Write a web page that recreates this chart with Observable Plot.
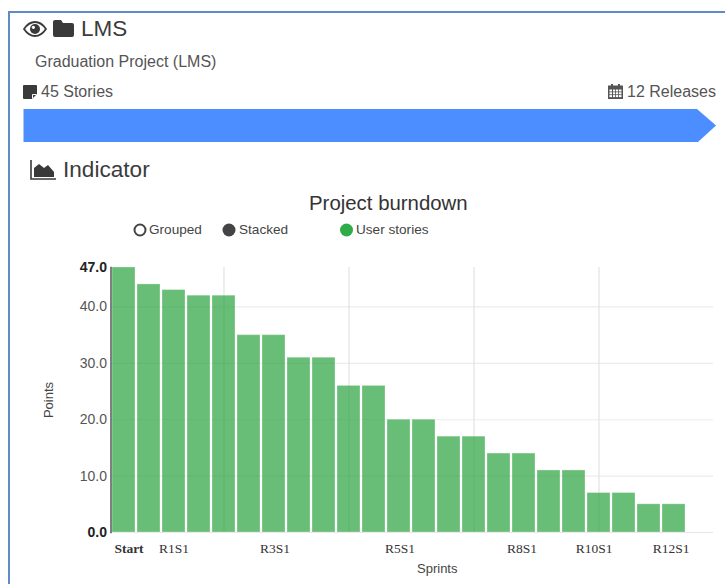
<!DOCTYPE html>
<html>
<head>
<meta charset="utf-8">
<script src="https://cdn.jsdelivr.net/npm/d3@7"></script>
<script src="https://cdn.jsdelivr.net/npm/@observablehq/plot@0.6"></script>
<style>
html,body{margin:0;padding:0;background:#fff;overflow:hidden}
#page{position:relative;width:725px;height:584px;font-family:"Liberation Sans",Arial,sans-serif;color:#444}
#head{position:relative;width:725px;height:250px}
#head>*{position:absolute;white-space:nowrap}
#chart svg{display:block}
</style>
</head>
<body>
<div id="page">
  <div id="head">
    <div style="left:8px;top:11px;width:717px;height:2px;background:#5f8cc6"></div>
    <div style="left:8px;top:11px;width:2px;height:573px;background:#5f8cc6"></div>

    <svg style="left:23px;top:21px" width="24" height="16" viewBox="0 0 24 16">
      <path d="M1 8C5 2 9 1 12 1s7 1 11 7c-4 6-8 7-11 7S5 14 1 8z" fill="none" stroke="#3a3a3a" stroke-width="1.8"/>
      <circle cx="12" cy="8" r="5" fill="#3a3a3a"/><circle cx="10.4" cy="6.3" r="1.6" fill="#fff"/>
    </svg>
    <svg style="left:53px;top:20px" width="21" height="17" viewBox="0 0 21 17">
      <path d="M2 0h6l2 3h9a2 2 0 0 1 2 2v10a2 2 0 0 1-2 2H2a2 2 0 0 1-2-2V2a2 2 0 0 1 2-2z" fill="#3a3a3a"/>
    </svg>
    <div style="left:81px;top:17px;font-size:22.5px;line-height:24px;color:#3c3c3c">LMS</div>
    <div style="left:35px;top:53px;font-size:16px;line-height:18px;color:#555">Graduation Project (LMS)</div>

    <svg style="left:23px;top:85px" width="14" height="14" viewBox="0 0 14 14">
      <path d="M0 1a1 1 0 0 1 1-1h12a1 1 0 0 1 1 1v8l-5 5H1a1 1 0 0 1-1-1z" fill="#3a3a3a"/>
      <path d="M9.5 13.5V9.5h4" fill="none" stroke="#fff" stroke-width="1"/>
    </svg>
    <div style="left:41px;top:83px;font-size:16px;line-height:18px;color:#555">45 Stories</div>

    <svg style="left:608px;top:84px" width="15" height="15" viewBox="0 0 15 15">
      <rect x="0.5" y="2" width="14" height="12.5" fill="#555" stroke="#555"/>
      <g fill="#fff">
        <rect x="1.5" y="5.5" width="2.5" height="2"/><rect x="5" y="5.5" width="2.2" height="2"/><rect x="8" y="5.5" width="2.2" height="2"/><rect x="11" y="5.5" width="2.5" height="2"/>
        <rect x="1.5" y="8.3" width="2.5" height="2"/><rect x="5" y="8.3" width="2.2" height="2"/><rect x="8" y="8.3" width="2.2" height="2"/><rect x="11" y="8.3" width="2.5" height="2"/>
        <rect x="1.5" y="11.1" width="2.5" height="2"/><rect x="5" y="11.1" width="2.2" height="2"/><rect x="8" y="11.1" width="2.2" height="2"/><rect x="11" y="11.1" width="2.5" height="2"/>
      </g>
      <rect x="3" y="0" width="2" height="3.5" fill="#555"/><rect x="10" y="0" width="2" height="3.5" fill="#555"/>
    </svg>
    <div style="right:9px;top:83px;font-size:16px;line-height:18px;color:#555">12 Releases</div>

    <svg style="left:23px;top:108px" width="694" height="35" viewBox="0 0 694 35">
      <polygon points="0.5,1 674,1 693,17.5 675,34 0.5,34" fill="#4c8dff"/>
    </svg>

    <svg style="left:30px;top:160px" width="27" height="20" viewBox="0 0 27 20">
      <path d="M1 0v19h25" fill="none" stroke="#3a3a3a" stroke-width="1.6"/>
      <path d="M4 17V8l5-4 5 4 4-3 6 7v5z" fill="#3a3a3a"/>
    </svg>
    <div style="left:63px;top:157px;font-size:22.6px;line-height:26px;color:#3c3c3c">Indicator</div>

    <div style="left:309px;top:192px;font-size:20.4px;line-height:22px;color:#333">Project burndown</div>

    <svg style="left:132px;top:222px" width="16" height="16"><circle cx="8" cy="8" r="5.5" fill="#fff" stroke="#444" stroke-width="2"/></svg>
    <div style="left:149px;top:222px;font-size:13.6px;line-height:16px;color:#444">Grouped</div>
    <svg style="left:221px;top:222px" width="16" height="16"><circle cx="8" cy="8" r="6.5" fill="#444"/></svg>
    <div style="left:239px;top:222px;font-size:13.6px;line-height:16px;color:#444">Stacked</div>
    <svg style="left:339px;top:222px" width="16" height="16"><circle cx="7.5" cy="8" r="6.5" fill="#2fac4a"/></svg>
    <div style="left:356px;top:222px;font-size:13.6px;line-height:16px;color:#444">User stories</div>
  </div>
  <div id="chart"></div>
</div>
<script>
// Remaining points at each sprint step
const remainingPoints = [47, 44, 43, 42, 42, 35, 35, 31, 31, 26, 26, 20, 20, 17, 17, 14, 14, 11, 11, 7, 7, 5, 5];
const stepCount = 24; // one empty step is left after the last bar
const labelledSteps = [0, 2, 6, 11, 16, 19, 22];
const labelTexts = ["Start", "R1S1", "R3S1", "R5S1", "R8S1", "R10S1", "R12S1"];
const gridSteps = [4, 9, 14, 19];
const regularTicks = [10, 20, 30, 40];
const boldTicks = [0, 47];

const labelNudge = [5, 0, 1, 1, -2, -5, -3];
const fmt = d => d.toFixed(1);
const rows = remainingPoints.map((points, step) => ({step, points}));

const chart = Plot.plot({
  width: 725,
  height: 334,
  marginTop: 17,
  marginBottom: 52,
  marginLeft: 110.5,
  marginRight: 12,
  style: {fontFamily: '"Liberation Sans", Arial, sans-serif', fontSize: "14px", background: "transparent", overflow: "visible"},
  x: {type: "band", domain: d3.range(stepCount), range: [111, 711], paddingInner: 0.1, paddingOuter: 0.05, axis: null},
  y: {domain: [0, 47], axis: null},
  marks: [
    Plot.ruleY(regularTicks, {stroke: "#ececec", strokeWidth: 1.2}),
    Plot.ruleY([0], {stroke: "#e6e6e6", strokeWidth: 1.2}),
    Plot.ruleX(gridSteps, {x: d => d, stroke: "#e2e2e2", strokeWidth: 1.2}),
    Plot.barY(rows, {x: "step", y: "points", fill: "#28a23c", fillOpacity: 0.7, stroke: "#fff", strokeOpacity: 0.3}),
    Plot.frame({anchor: "left", stroke: "#555", strokeWidth: 1.5}),
    Plot.axisY({ticks: regularTicks, tickSize: 0, tickPadding: 4, tickFormat: fmt, label: null, color: "#555"}),
    Plot.axisY({ticks: boldTicks, tickSize: 0, tickPadding: 4, tickFormat: fmt, label: null, fontWeight: "bold", color: "#222"}),
    ...labelledSteps.map((step, i) => Plot.text([labelTexts[i]], {
      x: () => step, y: () => 0, text: d => d, dx: labelNudge[i], dy: 16,
      fontFamily: '"Liberation Serif", "Times New Roman", serif',
      fontSize: 13.5,
      fontWeight: i === 0 ? "bold" : "normal",
      fill: "#333"
    })),
    Plot.text(["Points"], {text: d => d, frameAnchor: "left", textAnchor: "middle", dx: -62, rotate: -90, fontSize: 13, fill: "#444"}),
    Plot.text(["Sprints"], {text: d => d, frameAnchor: "bottom", dx: 25, dy: 40, fontSize: 13, fill: "#444"})
  ]
});
document.getElementById("chart").appendChild(chart);
</script>
</body>
</html>
